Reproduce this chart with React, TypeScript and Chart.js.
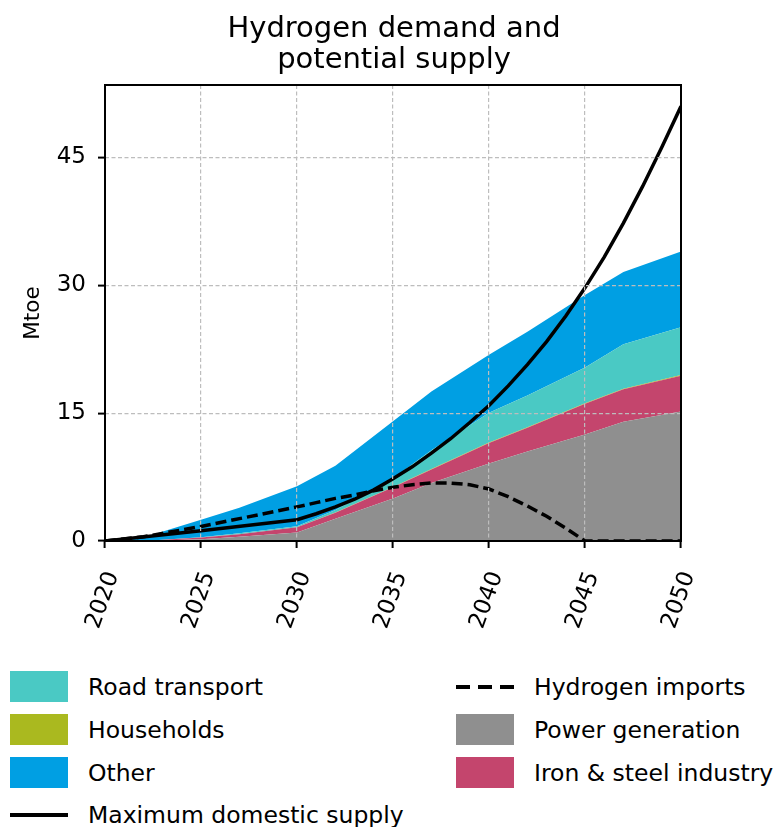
import React, { useEffect, useRef } from 'react';
import { Chart, registerables } from 'chart.js';

Chart.register(...registerables);

const FONT = '"DejaVu Sans", sans-serif';

// Demand by sector (Mtoe), stacked bottom to top
const DEMAND_YEARS = [2020, 2022, 2025, 2027, 2030, 2032, 2035, 2037, 2040, 2042, 2045, 2047, 2050];
const POWER_GENERATION = [0, 0, 0.2, 0.5, 1.0, 2.6, 5.0, 6.8, 9.1, 10.5, 12.5, 14.0, 15.2];
const IRON_STEEL = [0, 0, 0.2, 0.3, 0.6, 0.7, 1.3, 1.6, 2.4, 2.8, 3.6, 3.8, 4.2];
const HOUSEHOLDS = [0, 0, 0, 0, 0.02, 0.03, 0.04, 0.05, 0.05, 0.06, 0.07, 0.07, 0.08];
const ROAD_TRANSPORT = [0, 0, 0.05, 0.1, 0.1, 0.3, 1.0, 2.2, 3.5, 3.7, 4.2, 5.2, 5.6];
const OTHER = [0, 0.4, 2.05, 3.0, 4.7, 5.2, 6.7, 6.9, 6.8, 7.5, 8.5, 8.5, 8.9];

// Maximum domestic supply (Mtoe)
const SUPPLY_YEARS = [2020, 2025, 2030, 2031, 2032, 2033, 2034, 2035, 2036, 2037, 2038, 2039, 2040,
  2041, 2042, 2043, 2044, 2045, 2046, 2047, 2048, 2049, 2050];
const MAX_DOMESTIC_SUPPLY = [0, 1.2, 2.5, 3.2, 4.0, 4.9, 6.0, 7.3, 8.7, 10.3, 12.0, 13.9, 15.9,
  18.2, 20.7, 23.4, 26.4, 29.7, 33.3, 37.3, 41.6, 46.2, 51.0];

// Hydrogen imports (Mtoe)
const IMPORT_YEARS = [2020, 2022, 2025, 2030, 2031, 2032, 2033, 2034, 2035, 2036, 2037, 2038, 2039,
  2040, 2041, 2042, 2043, 2044, 2045, 2050];
const HYDROGEN_IMPORTS = [0, 0.5, 1.7, 4.0, 4.5, 5.0, 5.4, 5.9, 6.3, 6.6, 6.8, 6.8, 6.6,
  6.1, 5.2, 4.1, 2.9, 1.5, 0, 0];

const X_TICKS = [2020, 2025, 2030, 2035, 2040, 2045, 2050];
const Y_TICKS = [0, 15, 30, 45];
const Y_MAX = 53.5;

const COLORS = {
  road: '#4AC9C4',
  households: '#AAB91F',
  other: '#009FE3',
  power: '#8F8F8F',
  iron: '#C4456D',
};

const TITLE_LINES = ['Hydrogen demand and', 'potential supply'];

type LegendItem = { label: string; kind: 'box' | 'line' | 'dash'; color: string };

const LEGEND_ITEMS: LegendItem[] = [
  { label: 'Road transport', kind: 'box', color: COLORS.road },
  { label: 'Households', kind: 'box', color: COLORS.households },
  { label: 'Other', kind: 'box', color: COLORS.other },
  { label: 'Maximum domestic supply', kind: 'line', color: '#000' },
  { label: 'Hydrogen imports', kind: 'dash', color: '#000' },
  { label: 'Power generation', kind: 'box', color: COLORS.power },
  { label: 'Iron & steel industry', kind: 'box', color: COLORS.iron },
];

const pts = (xs: number[], ys: number[]) => xs.map((x, i) => ({ x, y: ys[i] }));

const titlePlugin = {
  id: 'twoLineTitle',
  afterDraw(chart: Chart) {
    const { ctx } = chart;
    ctx.save();
    ctx.fillStyle = '#000';
    ctx.font = `29px ${FONT}`;
    ctx.textAlign = 'center';
    ctx.textBaseline = 'alphabetic';
    const cx = (chart.chartArea.left + chart.chartArea.right) / 2 + 1;
    ctx.fillText(TITLE_LINES[0], cx, 37);
    ctx.fillText(TITLE_LINES[1], cx, 68);
    ctx.restore();
  },
};

// Closed black box around the plot area, drawn over everything else
const framePlugin = {
  id: 'axesFrame',
  afterDraw(chart: Chart) {
    const { ctx, chartArea: a } = chart;
    ctx.save();
    ctx.strokeStyle = '#000';
    ctx.lineWidth = 2;
    ctx.strokeRect(a.left, a.top, a.right - a.left, a.bottom - a.top);
    ctx.restore();
  },
};

function Legend() {
  const rowY = [687, 730, 773, 815];
  return (
    <>
      {LEGEND_ITEMS.map((item, i) => {
        const col = i < 4 ? 0 : 1;
        const row = i < 4 ? i : i - 4;
        const x0 = col === 0 ? 10 : 456;
        const tx = col === 0 ? 88 : 534;
        const cy = rowY[row];
        let marker: React.ReactNode;
        if (item.kind === 'box') {
          marker = (
            <div style={{ position: 'absolute', left: x0, top: cy - 16, width: 58, height: 31, background: item.color }} />
          );
        } else if (item.kind === 'line') {
          marker = (
            <div style={{ position: 'absolute', left: x0, top: cy - 2, width: 58, height: 4, background: item.color }} />
          );
        } else {
          marker = (
            <>
              {[0, 22, 44].map((dx) => (
                <div key={dx} style={{ position: 'absolute', left: x0 + dx, top: cy - 2, width: 14, height: 4, background: item.color }} />
              ))}
            </>
          );
        }
        return (
          <React.Fragment key={item.label}>
            {marker}
            <div
              style={{
                position: 'absolute',
                left: tx,
                top: cy - 15,
                height: 30,
                lineHeight: '30px',
                fontSize: 23.5,
                fontFamily: FONT,
                color: '#000',
                whiteSpace: 'nowrap',
              }}
            >
              {item.label}
            </div>
          </React.Fragment>
        );
      })}
    </>
  );
}

export default function App() {
  const canvasRef = useRef<HTMLCanvasElement>(null);

  useEffect(() => {
    const canvas = canvasRef.current;
    if (!canvas) return;

    const areaBase = {
      pointRadius: 0,
      borderWidth: 0,
      tension: 0,
      stack: 'demand',
    };

    const gridOpts = {
      z: 1,
      color: '#bdbdbd',
      lineWidth: 1.2,
      drawTicks: true,
      tickColor: '#000',
      tickLength: 7,
      tickWidth: 2,
    };

    const chart = new Chart(canvas, {
      type: 'line',
      data: {
        datasets: [
          { ...areaBase, label: 'Power generation', data: pts(DEMAND_YEARS, POWER_GENERATION), backgroundColor: COLORS.power, borderColor: COLORS.power, fill: 'origin' },
          { ...areaBase, label: 'Iron & steel industry', data: pts(DEMAND_YEARS, IRON_STEEL), backgroundColor: COLORS.iron, borderColor: COLORS.iron, fill: '-1' },
          { ...areaBase, label: 'Households', data: pts(DEMAND_YEARS, HOUSEHOLDS), backgroundColor: COLORS.households, borderColor: COLORS.households, fill: '-1' },
          { ...areaBase, label: 'Road transport', data: pts(DEMAND_YEARS, ROAD_TRANSPORT), backgroundColor: COLORS.road, borderColor: COLORS.road, fill: '-1' },
          { ...areaBase, label: 'Other', data: pts(DEMAND_YEARS, OTHER), backgroundColor: COLORS.other, borderColor: COLORS.other, fill: '-1' },
          {
            label: 'Maximum domestic supply',
            data: pts(SUPPLY_YEARS, MAX_DOMESTIC_SUPPLY),
            borderColor: '#000',
            borderWidth: 3.5,
            pointRadius: 0,
            fill: false,
            tension: 0,
            stack: 'supply',
            order: -1,
          },
          {
            label: 'Hydrogen imports',
            data: pts(IMPORT_YEARS, HYDROGEN_IMPORTS),
            borderColor: '#000',
            borderWidth: 3.5,
            borderDash: [11, 5],
            pointRadius: 0,
            fill: false,
            tension: 0,
            stack: 'imports',
            order: -2,
          },
        ],
      },
      options: {
        responsive: false,
        animation: false,
        devicePixelRatio: 1,
        layout: { padding: { left: 0, right: 96, top: 85, bottom: 0 } },
        plugins: {
          legend: { display: false },
          title: { display: false },
          tooltip: { enabled: false },
        },
        scales: {
          x: {
            type: 'linear',
            min: 2020,
            max: 2050,
            afterBuildTicks: (s: any) => {
              s.ticks = X_TICKS.map((v) => ({ value: v }));
            },
            afterFit: (s: any) => {
              s.height = 99;
            },
            ticks: {
              minRotation: 70,
              maxRotation: 70,
              color: '#000',
              padding: 20,
              labelOffset: 8,
              font: { family: FONT, size: 23 },
              callback: (v: any) => String(v),
            },
            grid: gridOpts,
            border: { display: false, dash: [4, 2.5] },
          },
          y: {
            type: 'linear',
            min: 0,
            max: Y_MAX,
            stacked: true,
            afterBuildTicks: (s: any) => {
              s.ticks = Y_TICKS.map((v) => ({ value: v }));
            },
            afterFit: (s: any) => {
              s.width = 105;
            },
            ticks: {
              color: '#000',
              padding: 12,
              font: { family: FONT, size: 23 },
              callback: (v: any) => String(v),
            },
            title: {
              display: true,
              text: 'Mtoe',
              color: '#000',
              font: { family: FONT, size: 21.5 },
              padding: { top: 21, bottom: 0 },
            },
            grid: gridOpts,
            border: { display: false, dash: [4, 2.5] },
          },
        },
      },
      plugins: [titlePlugin, framePlugin],
    } as any);

    return () => chart.destroy();
  }, []);

  return (
    <div
      style={{
        position: 'fixed',
        left: 0,
        top: 0,
        width: 777,
        height: 827,
        background: '#fff',
        overflow: 'hidden',
      }}
    >
      <canvas
        ref={canvasRef}
        width={777}
        height={640}
        style={{ position: 'absolute', left: 0, top: 0, width: 777, height: 640 }}
      />
      <Legend />
    </div>
  );
}
